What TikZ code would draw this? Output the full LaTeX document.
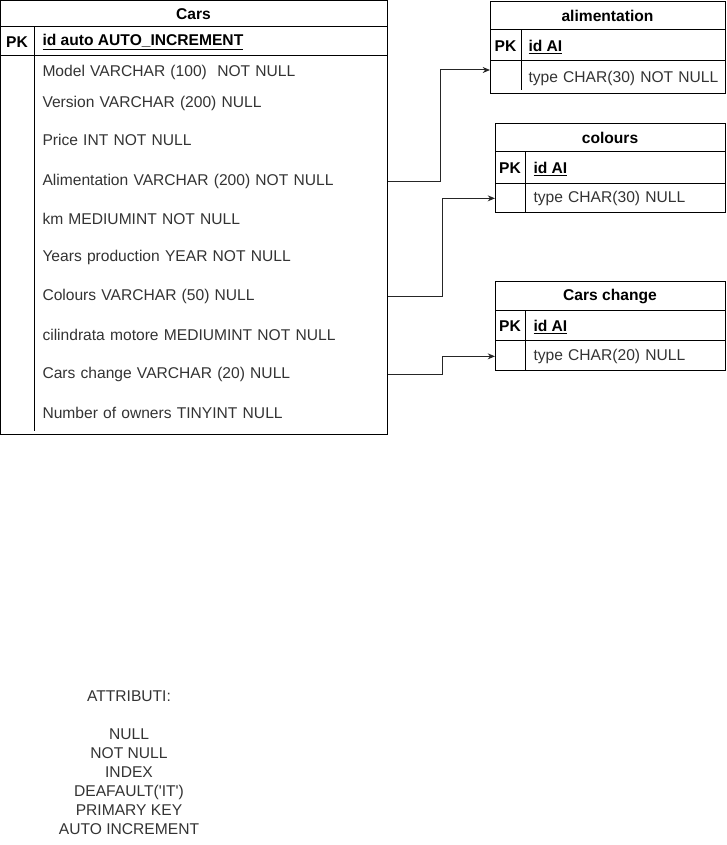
\documentclass[tikz,border=0pt]{standalone}
\usepackage{fontspec}
\setmainfont{Liberation Sans}
\usetikzlibrary{arrows.meta}
\colorlet{txt}{black!80}

\tikzset{
	frame/.style={draw, anchor=north west, inner sep=0pt},
	title/.style={inner sep=0pt, font=\fontsize{11.7}{14}\selectfont\bfseries},
	key/.style={anchor=west, inner sep=0pt, yshift=-1pt, font=\fontsize{11.7}{14}\selectfont\bfseries},
	attr/.style={anchor=west, inner sep=0pt, yshift=-1pt, align=left, text=txt, font=\fontsize{11.7}{14}\selectfont},
	fk/.style={-{Stealth[length=5.5pt,width=4.5pt]}, draw=black!85},
}

\begin{document}
\begin{tikzpicture}[x=0.75pt,y=-0.75pt,line width=0.75pt]
\useasboundingbox (0,0) rectangle (726,845);

% Cars
\node[frame, minimum width=290.25pt, minimum height=325.5pt] (cars) at (0,0) {};
\draw (0,27) -- (387,27);
\draw (0,56) -- (387,56);
\draw (34,27) -- (34,431);
\node[title] (carsName) at (193.5,14) {Cars};
\node[title] (carsPK) at (17,42) {PK};
\node[key] (carsId) at (42,41) {\underline{id auto AUTO\_INCREMENT}};
\foreach \y/\n/\t in {71/model/Model VARCHAR (100)\ \ NOT NULL,
	102/version/Version VARCHAR (200) NULL,
	139/price/Price INT NOT NULL,
	180/alim/Alimentation VARCHAR (200) NOT NULL,
	218/km/km MEDIUMINT NOT NULL,
	256/years/Years production YEAR NOT NULL,
	295/colour/Colours VARCHAR (50) NULL,
	334/cil/cilindrata motore MEDIUMINT NOT NULL,
	373/change/Cars change VARCHAR (20) NULL,
	412/owners/Number of owners TINYINT NULL}
{
	\node[attr, text width=258.75pt] (\n) at (42,\y) {\t};
}

% alimentation
\node[frame, minimum width=176.25pt, minimum height=69pt] (tAlim) at (490,1) {};
\draw (490,30) -- (725,30);
\draw (490,61) -- (725,61);
\draw (521,30) -- (521,90);
\node[title] (alName) at (607.5,16) {alimentation};
\node[title] (alPK) at (505.5,46) {PK};
\node[key] (alId) at (528,46) {\underline{id AI}};
\node[attr, text width=147.75pt] (alType) at (528,77) {type CHAR(30) NOT NULL};

% colours
\node[frame, minimum width=172.5pt, minimum height=66.75pt] (tCol) at (495,123) {};
\draw (495,152) -- (725,152);
\draw (495,183) -- (725,183);
\draw (525,152) -- (525,212);
\node[title] (colName) at (610,138) {colours};
\node[title] (colPK) at (510,168) {PK};
\node[key] (colId) at (533,168) {\underline{id AI}};
\node[attr, text width=144pt] (colType) at (533,197) {type CHAR(30) NULL};

% Cars change
\node[frame, minimum width=172.5pt, minimum height=66.75pt] (tChange) at (495,281) {};
\draw (495,310) -- (725,310);
\draw (495,340) -- (725,340);
\draw (525,310) -- (525,370);
\node[title] (chName) at (610,296) {Cars change};
\node[title] (chPK) at (510,326) {PK};
\node[key] (chId) at (533,326) {\underline{id AI}};
\node[attr, text width=144pt] (chType) at (533,355) {type CHAR(20) NULL};

% foreign keys
\coordinate (alIn) at (490,70);
\draw[fk] (alim.east) -- ++(52,0) |- (alIn);
\draw[fk] (colour.east) -- ++(54,0) |- (colType.west -| tCol.west);
\draw[fk] (change.east) -- ++(54,0) |- (chType.west -| tChange.west);

% note
\node[attr, anchor=center, align=center, font=\fontsize{11.7}{14.25}\selectfont] (attrib) at (129,761)
	{ATTRIBUTI:\\[14.25pt]NULL\\NOT NULL\\INDEX\\DEAFAULT(\textquotesingle IT\textquotesingle)\\PRIMARY KEY\\AUTO INCREMENT};

\end{tikzpicture}
\end{document}
